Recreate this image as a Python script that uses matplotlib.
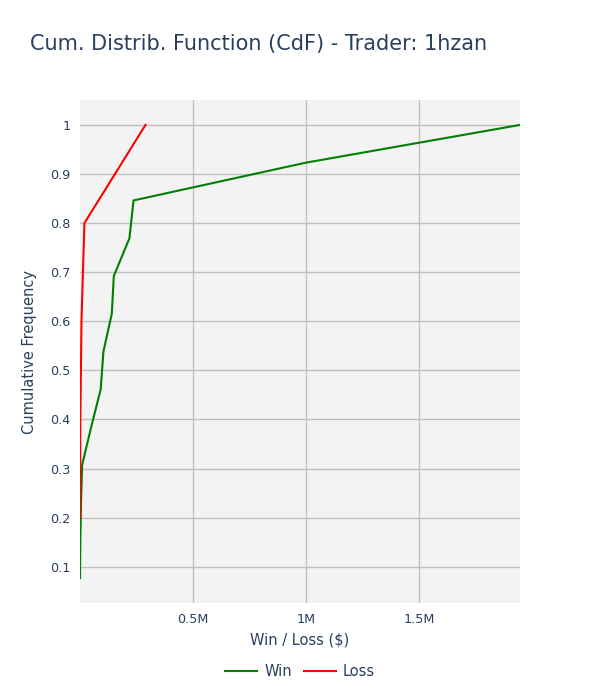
import matplotlib
matplotlib.use("Agg")
import matplotlib.pyplot as plt
from matplotlib.ticker import FixedLocator

# Data
win_x = [500, 2000, 5000, 10000, 50000, 92000, 104000, 141000, 150000, 219000, 237000, 998000, 1945000]
win_y = [1/13, 2/13, 3/13, 4/13, 5/13, 6/13, 7/13, 8/13, 9/13, 10/13, 11/13, 12/13, 13/13]
loss_x = [1000, 2000, 7000, 20000, 290000]
loss_y = [0.2, 0.4, 0.6, 0.8, 1.0]

title = "Cum. Distrib. Function (CdF) - Trader: 1hzan"
xlabel = "Win / Loss ($)"
ylabel = "Cumulative Frequency"
xticks = [500000, 1000000, 1500000]
xtick_labels = ["0.5M", "1M", "1.5M"]
yticks = [0.1, 0.2, 0.3, 0.4, 0.5, 0.6, 0.7, 0.8, 0.9, 1.0]
ytick_labels = ["0.1", "0.2", "0.3", "0.4", "0.5", "0.6", "0.7", "0.8", "0.9", "1"]

txt = "#2a3f5f"
plt.rcParams['font.family'] = ['DejaVu Sans']

fig = plt.figure(figsize=(6, 7), dpi=100)
ax = fig.add_axes([80/600, 1 - 603/700, 440/600, 503/700])
ax.set_facecolor("#f3f3f3")

ax.plot(win_x, win_y, color="green", lw=1.5, label="Win", solid_joinstyle="miter")
ax.plot(loss_x, loss_y, color="red", lw=1.5, label="Loss", solid_joinstyle="miter")

allx = win_x + loss_x
ally = win_y + loss_y
ax.set_xlim(min(allx), max(allx))
span = max(ally) - min(ally)
ax.set_ylim(min(ally) - 0.055 * span, max(ally) + 0.055 * span)

ax.xaxis.set_major_locator(FixedLocator(xticks))
ax.set_xticklabels(xtick_labels)
ax.yaxis.set_major_locator(FixedLocator(yticks))
ax.set_yticklabels(ytick_labels)

ax.grid(True, color="#c0c0c0", lw=1.0)
ax.set_axisbelow(True)
for s in ax.spines.values():
    s.set_visible(False)
ax.tick_params(length=0, labelsize=9.2, labelcolor=txt, pad=7)

ax.set_xlabel(xlabel, fontsize=10.5, color=txt, labelpad=5)
ax.set_ylabel(ylabel, fontsize=10.5, color=txt, labelpad=9)

fig.text(30/600, 1 - 44/700, title, fontsize=15, color=txt, va="center", ha="left")

leg = fig.legend(loc="center", bbox_to_anchor=(0.5, 1 - 672/700), ncol=2, frameon=False,
                 fontsize=10.5, handlelength=2.2, handletextpad=0.5, columnspacing=0.8)
for t in leg.get_texts():
    t.set_color(txt)

fig.savefig("out.png", dpi=100)
